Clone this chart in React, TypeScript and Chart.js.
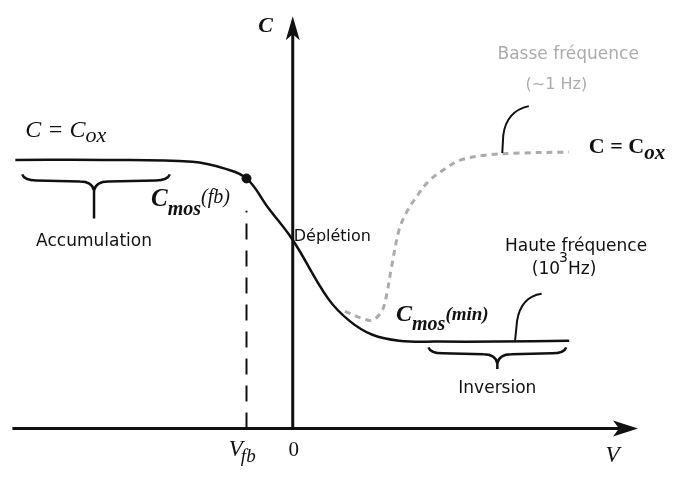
import React, { useEffect, useRef } from 'react';
import { Chart, registerables } from 'chart.js';
Chart.register(...registerables);

// High-frequency C(V) curve (solid)
const V_HF = [-5.64, -3.84, -2.04, -1.38, -0.94, -0.5, 0, 0.72, 1.16, 1.62, 2.16, 2.96, 4.16, 5.62];
const C_HF = [5.5, 5.5, 5.46, 5.32, 5.12, 4.52, 3.86, 2.66, 2.2, 1.92, 1.8, 1.78, 1.78, 1.8];
// Low-frequency C(V) curve (dashed grey)
const V_LF = [1.06, 1.4, 1.62, 1.82, 1.92, 2.0, 2.16, 2.3, 2.5, 2.76, 3.1, 3.42, 3.96, 4.62, 5.62];
const C_LF = [2.4, 2.26, 2.22, 2.42, 2.8, 3.26, 4.06, 4.4, 4.72, 5.06, 5.32, 5.5, 5.6, 5.64, 5.66];
// Flat-band point
const V_FB = -0.94;
const C_FB = 5.12;
const C_FB_LINE_TOP = 4.46;
// Axis ranges
const V_MIN = -5.84;
const V_MAX = 7.66;
const C_MIN = -0.94;
const C_MAX = 8.66;

const INK = '#111111';
const GREY = '#ababab';

const decor = {
  id: 'decor',
  beforeDatasetsDraw(chart: any) {
    const ctx = chart.ctx as CanvasRenderingContext2D;
    const X = (v: number) => chart.scales.x.getPixelForValue(v);
    const Y = (c: number) => chart.scales.y.getPixelForValue(c);
    ctx.save();
    ctx.strokeStyle = INK;
    ctx.fillStyle = INK;
    ctx.lineWidth = 3;
    const x0 = X(0), y0 = Y(0);
    const xl = X(-5.7), xt = X(7.02);
    ctx.beginPath();
    ctx.moveTo(xl, y0);
    ctx.lineTo(xt - 10, y0);
    ctx.stroke();
    ctx.beginPath();
    ctx.moveTo(xt, y0);
    ctx.lineTo(xt - 25, y0 - 8);
    ctx.lineTo(xt - 19, y0);
    ctx.lineTo(xt - 25, y0 + 8);
    ctx.closePath();
    ctx.fill();
    const yt = Y(8.44);
    ctx.beginPath();
    ctx.moveTo(x0, y0);
    ctx.lineTo(x0, yt + 10);
    ctx.stroke();
    ctx.beginPath();
    ctx.moveTo(x0, yt);
    ctx.lineTo(x0 - 7, yt + 24);
    ctx.lineTo(x0, yt + 18);
    ctx.lineTo(x0 + 7, yt + 24);
    ctx.closePath();
    ctx.fill();
    ctx.restore();
  },
  afterDatasetsDraw(chart: any) {
    const ctx = chart.ctx as CanvasRenderingContext2D;
    const X = (v: number) => chart.scales.x.getPixelForValue(v);
    const Y = (c: number) => chart.scales.y.getPixelForValue(c);
    ctx.save();
    ctx.textBaseline = 'alphabetic';
    const txt = (s: string, x: number, y: number, font: string, color = INK, align: CanvasTextAlign = 'left') => {
      ctx.font = font;
      ctx.fillStyle = color;
      ctx.textAlign = align;
      ctx.fillText(s, x, y);
      return x + ctx.measureText(s).width;
    };
    const SER = (s: number) => `${s}px "Liberation Serif", serif`;
    const SER_I = (s: number) => `italic ${s}px "Liberation Serif", serif`;
    const SER_BI = (s: number) => `italic bold ${s}px "Liberation Serif", serif`;
    const SER_B = (s: number) => `bold ${s}px "Liberation Serif", serif`;
    const SANS = (s: number) => `${s}px "DejaVu Sans", sans-serif`;

    const brace = (v1: number, v2: number, vm: number, c: number, tipC: number, thick: number) => {
      const x1 = X(v1), x2 = X(v2), xm = X(vm), y = Y(c), tip = Y(tipC);
      ctx.strokeStyle = INK;
      ctx.lineWidth = thick;
      ctx.beginPath();
      ctx.moveTo(x1, y - 5);
      ctx.quadraticCurveTo(x1 + 2, y + 1, x1 + 14, y + 1);
      ctx.lineTo(xm - 14, y + 2);
      ctx.quadraticCurveTo(xm - 2, y + 2, xm, y + 11);
      ctx.lineTo(xm, tip);
      ctx.moveTo(xm, y + 11);
      ctx.quadraticCurveTo(xm + 2, y + 2, xm + 14, y + 2);
      ctx.lineTo(x2 - 14, y + 1);
      ctx.quadraticCurveTo(x2 - 2, y + 1, x2, y - 5);
      ctx.stroke();
    };
    brace(-5.5, -2.5, -4.04, 5.1, 4.3, 2.5);
    brace(2.76, 5.56, 4.16, 1.56, 1.22, 2.5);

    ctx.lineWidth = 2;
    ctx.beginPath();
    ctx.moveTo(X(4.26), Y(5.64));
    ctx.lineTo(X(4.28), Y(6.0));
    ctx.quadraticCurveTo(X(4.34), Y(6.5), X(4.8), Y(6.6));
    ctx.stroke();
    ctx.beginPath();
    ctx.moveTo(X(4.52), Y(1.8));
    ctx.lineTo(X(4.56), Y(2.2));
    ctx.quadraticCurveTo(X(4.64), Y(2.7), X(5.06), Y(2.76));
    ctx.stroke();

    txt('C', X(-0.7), Y(8.12), SER_BI(22));
    let e = txt('V', X(-1.3), Y(-0.56), SER_I(23));
    txt('fb', e - 2, Y(-0.68), SER_I(19));
    txt('0', X(0.02), Y(-0.56), SER(21), INK, 'center');
    txt('V', X(6.36), Y(-0.68), SER_I(23));

    e = txt('C = C', X(-5.44), Y(5.96), SER_I(24));
    txt('ox', e, Y(5.86), SER_I(22));
    e = txt('C', X(-2.88), Y(4.56), SER_BI(25));
    e = txt('mos', e, Y(4.38), SER_BI(20));
    txt('(fb)', e, Y(4.62), SER_I(20));
    e = txt('C', X(2.1), Y(2.2), SER_BI(24));
    e = txt('mos', e, Y(2.02), SER_BI(20));
    txt('(min)', e, Y(2.22), SER_BI(19));
    e = txt('C = C', X(6.02), Y(5.64), SER_B(22));
    txt('ox', e, Y(5.52), SER_BI(21));

    txt('Accumulation', X(-4.04), Y(3.74), SANS(17), INK, 'center');
    txt('Déplétion', X(0.02), Y(3.84), SANS(16));
    txt('Basse fréquence', X(5.6), Y(7.56), SANS(17), GREY, 'center');
    txt('(~1 Hz)', X(5.36), Y(6.96), SANS(16), GREY, 'center');
    txt('Haute fréquence', X(5.76), Y(3.64), SANS(17), INK, 'center');
    e = txt('(10', X(4.86), Y(3.16), SANS(17));
    txt('3', e - 1, Y(3.4), SANS(14));
    txt('Hz)', e + 8, Y(3.16), SANS(17));
    txt('Inversion', X(4.16), Y(0.72), SANS(17), INK, 'center');
    ctx.restore();
  },
};

export default function App() {
  const ref = useRef<HTMLCanvasElement | null>(null);
  useEffect(() => {
    document.body.style.margin = '0';
    const canvas = ref.current;
    if (!canvas) return;
    const pts = (xs: number[], ys: number[]) => xs.map((x, i) => ({ x, y: ys[i] }));
    const chart = new Chart(canvas, {
      type: 'scatter',
      data: {
        datasets: [
          {
            data: pts(V_LF, C_LF),
            showLine: true,
            borderColor: GREY,
            borderWidth: 3,
            borderDash: [6, 5],
            pointRadius: 0,
            tension: 0.35,
          },
          {
            data: pts(V_HF, C_HF),
            showLine: true,
            borderColor: INK,
            borderWidth: 2.5,
            pointRadius: 0,
            tension: 0.4,
          },
          {
            data: [{ x: V_FB, y: 0 }, { x: V_FB, y: C_FB_LINE_TOP }],
            showLine: true,
            borderColor: INK,
            borderWidth: 2,
            borderDash: [16, 11],
            pointRadius: 0,
          },
          {
            data: [{ x: V_FB, y: C_FB }],
            showLine: false,
            pointRadius: 4.5,
            backgroundColor: INK,
            borderColor: INK,
          },
        ],
      } as any,
      options: {
        responsive: false,
        animation: false,
        layout: { padding: 0 },
        plugins: { legend: { display: false }, tooltip: { enabled: false } },
        scales: {
          x: { type: 'linear', min: V_MIN, max: V_MAX, display: false },
          y: { type: 'linear', min: C_MIN, max: C_MAX, display: false },
        },
      } as any,
      plugins: [decor],
    });
    return () => chart.destroy();
  }, []);
  return (
    <div style={{ width: 675, height: 480, background: '#fff' }}>
      <canvas ref={ref} width={675} height={480} />
    </div>
  );
}
